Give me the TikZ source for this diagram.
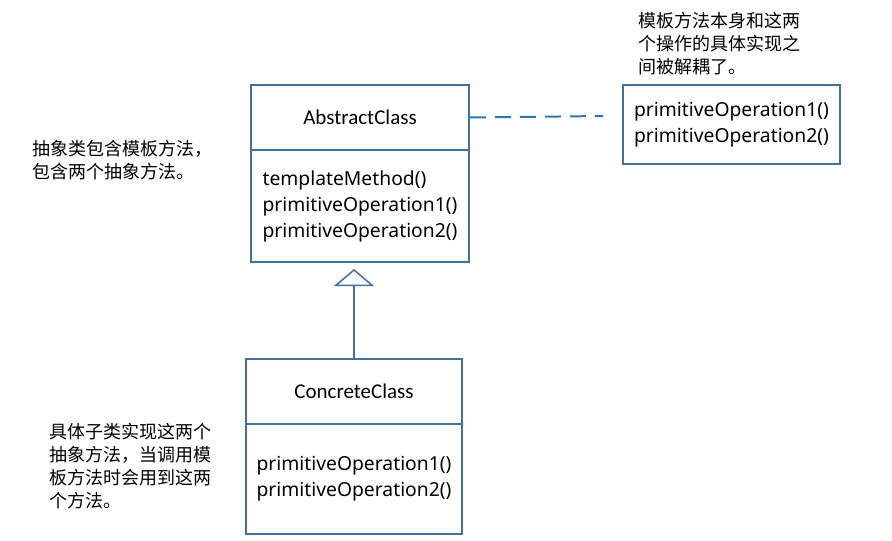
\documentclass[tikz,border=0pt]{standalone}
\usepackage{fontspec}
\setmainfont{Noto Sans}
\newfontfamily\cjk{Noto Sans CJK SC}
\newfontfamily\clsname{Carlito}
\usetikzlibrary{arrows.meta}
\definecolor{umlblue}{RGB}{65,113,156}
\definecolor{linkblue}{RGB}{46,117,182}
\tikzstyle{namebox}=[draw=umlblue,line width=2pt,inner sep=0pt,anchor=north west,font=\clsname\fontsize{21}{25}\selectfont]
\tikzstyle{opbox}=[draw=umlblue,line width=2pt,inner sep=0pt,anchor=north west,align=left,font=\fontsize{19.3}{26}\selectfont]
\tikzstyle{note}=[anchor=west,align=left,inner sep=0pt,font=\cjk\fontsize{18}{23}\selectfont]

\begin{document}
\begin{tikzpicture}[x=1pt,y=-1pt]
\useasboundingbox (0,0) rectangle (892,541);
\node[namebox,minimum width=218pt,minimum height=65pt] at (250,84) (aname) {AbstractClass};
\node[opbox,minimum width=218pt,minimum height=112pt] at (250,149) (aops) {templateMethod()\\primitiveOperation1()\\primitiveOperation2()};
\node[opbox,minimum width=217pt,minimum height=79pt] at (622,84) (impl) {primitiveOperation1()\\primitiveOperation2()};
\node[namebox,minimum width=216pt,minimum height=65pt] at (245,358) (cname) {ConcreteClass};
\node[opbox,minimum width=216pt,minimum height=110pt] at (245,423) (cops) {primitiveOperation1()\\primitiveOperation2()};
\coordinate (dashend) at (603,116);
\node[note] at (32,160) (noteabs) {抽象类包含模板方法，\\包含两个抽象方法。};
\node[note] at (638,44) (noteimpl) {模板方法本身和这两\\个操作的具体实现之\\间被解耦了。};
\node[note] at (49,466) (noteconc) {具体子类实现这两个\\抽象方法，当调用模\\板方法时会用到这两\\个方法。};
\draw[linkblue, line width=2pt, dash pattern=on 16pt off 9pt] (aname.east) -- (dashend);
\draw[-{Triangle[open,length=17pt,width=40pt]}, umlblue, line width=1.5pt, shorten >=6pt] (cname.north) -- (cname.north |- aops.south);
\end{tikzpicture}
\end{document}
